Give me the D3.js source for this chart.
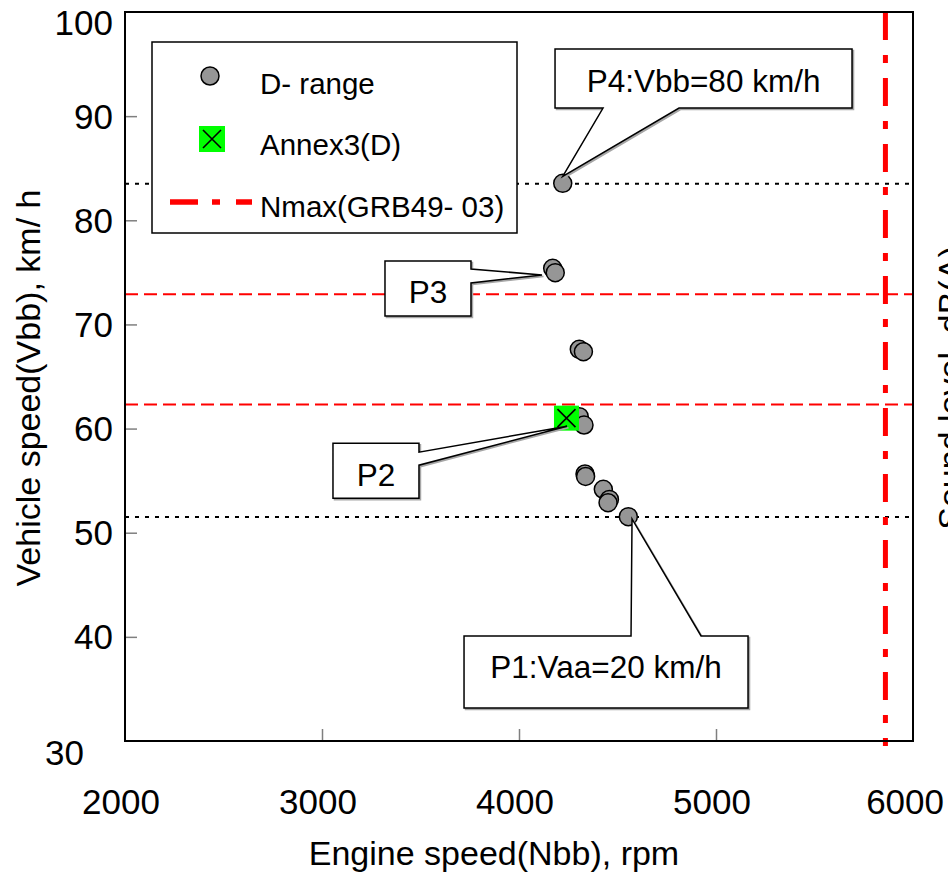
<!DOCTYPE html>
<html><head><meta charset="utf-8">
<script src="https://cdn.jsdelivr.net/npm/d3@7"></script>
<style>
body{margin:0;background:#fff}
svg{display:block}
text{font-family:"Liberation Sans",Arial,Helvetica,sans-serif;fill:#000}
</style>
</head><body>
<script>
// ---- data ----
const dRangeRpm   = [4222, 4171, 4184, 4306, 4327, 4306, 4330, 4335, 4338, 4428, 4459, 4452, 4555];
const dRangeSpeed = [83.55, 75.39, 74.97, 67.61, 67.38, 61.14, 60.34, 55.64, 55.4, 54.17, 53.2, 52.88, 51.54];
const annexRpm    = [4241];
const annexSpeed  = [61.0];
const nmaxRpm     = [5860];
const dottedSpeeds = [83.5, 51.5];
const dashedSpeeds = [72.9, 62.3];
const xTickValues = [2000, 3000, 4000, 5000, 6000];
const yTickValues = [30, 40, 50, 60, 70, 80, 90, 100];
const legendLabels = ["D- range", "Annex3(D)", "Nmax(GRB49- 03)"];
const xTitle = "Engine speed(Nbb), rpm";
const yTitle = "Vehicle speed(Vbb), km/ h";
const y2Title = "Sound level, dB(A)";
const calloutLabels = ["P4:Vbb=80 km/h", "P3", "P2", "P1:Vaa=20 km/h"];

// ---- layout ----
const W = 948, H = 875;
const m = {left:125, top:12, right:913, bottom:741};
const x = d3.scaleLinear().domain([2000, 6000]).range([m.left, m.right]);
const y = d3.scaleLinear().domain([30, 100]).range([m.bottom, m.top]);

const svg = d3.select("body").append("svg").attr("width", W).attr("height", H);

// ticks (inward, gray)
const gx = svg.append("g").attr("transform", `translate(0,${m.bottom})`)
  .call(d3.axisBottom(x).tickValues([3000,4000,5000]).tickSizeInner(-12).tickSizeOuter(0).tickFormat(""));
const gy = svg.append("g").attr("transform", `translate(${m.left},0)`)
  .call(d3.axisLeft(y).tickValues([40,50,60,70,80,90]).tickSizeInner(-12).tickSizeOuter(0).tickFormat(""));
[gx, gy].forEach(g => {
  g.select(".domain").remove();
  g.selectAll(".tick line").attr("stroke", "#7f7f7f").attr("stroke-width", 1.5);
});

// tick labels
svg.append("g").selectAll("text").data(xTickValues).join("text")
  .attr("x", d => d === 6000 ? 944 : x(d) - 4)
  .attr("y", 814)
  .attr("text-anchor", d => d === 6000 ? "end" : "middle")
  .attr("font-size", 35)
  .text(d => d);
svg.append("g").selectAll("text").data(yTickValues).join("text")
  .attr("x", d => d === 30 ? 84 : 113)
  .attr("y", d => (d === 100 ? y(d) + 10 : d === 30 ? y(d) + 11 : y(d)) + 12.5)
  .attr("text-anchor", "end")
  .attr("font-size", 35)
  .text(d => d);

// axis titles
svg.append("text").attr("x", 494).attr("y", 865).attr("text-anchor", "middle")
  .attr("font-size", 34).text(xTitle);
svg.append("text").attr("transform", `translate(40,388) rotate(-90)`).attr("text-anchor", "middle")
  .attr("font-size", 34).text(yTitle);
svg.append("text").attr("transform", `translate(962,388) rotate(-90)`).attr("text-anchor", "middle")
  .attr("font-size", 34).text(y2Title);

// reference lines
svg.append("g").selectAll("line").data(dottedSpeeds).join("line")
  .attr("x1", m.left).attr("x2", m.right).attr("y1", d => y(d)).attr("y2", d => y(d))
  .attr("stroke", "#000").attr("stroke-width", 2).attr("stroke-dasharray", "4,6");
svg.append("g").selectAll("line").data(dashedSpeeds).join("line")
  .attr("x1", m.left).attr("x2", m.right).attr("y1", d => y(d)).attr("y2", d => y(d))
  .attr("stroke", "#ff0000").attr("stroke-width", 2).attr("stroke-dasharray", "13,6");
svg.append("g").selectAll("line").data(nmaxRpm).join("line")
  .attr("x1", d => x(d)).attr("x2", d => x(d)).attr("y1", m.top).attr("y2", m.bottom + 5)
  .attr("stroke", "#ff0000").attr("stroke-width", 5).attr("stroke-dasharray", "28,15,8,15");

// frame
svg.append("rect").attr("x", m.left).attr("y", m.top)
  .attr("width", m.right - m.left).attr("height", m.bottom - m.top)
  .attr("fill", "none").attr("stroke", "#000").attr("stroke-width", 2);

// legend
const lg = svg.append("g");
lg.append("rect").attr("x", 152).attr("y", 42).attr("width", 365).attr("height", 191)
  .attr("fill", "#fff").attr("stroke", "#000").attr("stroke-width", 1.5);
lg.append("circle").attr("cx", 210).attr("cy", 76).attr("r", 9)
  .attr("fill", "#969696").attr("stroke", "#000").attr("stroke-width", 1.5);
lg.append("rect").attr("x", 199).attr("y", 126).attr("width", 26).attr("height", 26).attr("fill", "#00ff00");
lg.append("path").attr("d", "M203,130L221,148M221,130L203,148").attr("stroke", "#000").attr("stroke-width", 1.6);
lg.append("line").attr("x1", 170).attr("x2", 252).attr("y1", 202).attr("y2", 202)
  .attr("stroke", "#ff0000").attr("stroke-width", 5.5).attr("stroke-dasharray", "28,14,8,16");
lg.selectAll("text").data(legendLabels).join("text")
  .attr("x", 260).attr("y", (d, i) => [94, 155, 217][i])
  .attr("font-size", 29.5).text(d => d);

// points
svg.append("g").selectAll("circle").data(dRangeRpm.map((r, i) => [r, dRangeSpeed[i]])).join("circle")
  .attr("cx", d => x(d[0])).attr("cy", d => y(d[1])).attr("r", 9)
  .attr("fill", "#969696").attr("stroke", "#000").attr("stroke-width", 1.5);

const ag = svg.append("g").selectAll("g").data(annexRpm.map((r, i) => [r, annexSpeed[i]])).join("g")
  .attr("transform", d => `translate(${x(d[0])},${y(d[1])})`);
ag.append("rect").attr("x", -12.5).attr("y", -12.5).attr("width", 25).attr("height", 25).attr("fill", "#00ff00");
ag.append("path").attr("d", "M-9,-9L9,9M9,-9L-9,9").attr("stroke", "#000").attr("stroke-width", 1.6);

// callouts: anchor from data, box layout as pixel offsets
const anchors = [
  [dRangeRpm[0], dRangeSpeed[0]],
  [dRangeRpm[1], dRangeSpeed[1]],
  [annexRpm[0], annexSpeed[0]],
  [dRangeRpm[12], dRangeSpeed[12]]
];
const calloutLayout = [
  {dx:-7.7, dy:-134.3, w:297, h:59, side:"bottom", a:48, b:124, tx:0, ty:-7},
  {dx:-167.7, dy:-7.3, w:86, h:55, side:"right", a:8, b:22, tx:-10.7, ty:6.7},
  {dx:-233.5, dy:25, w:86, h:55, side:"right", a:9, b:22, tx:0.5, ty:8},
  {dx:-164.3, dy:119.3, w:284, h:72, side:"top", a:167, b:237, tx:3.7, ty:2.3}
];
function calloutPath(px, py, L) {
  const x0 = px + L.dx, y0 = py + L.dy, x1 = x0 + L.w, y1 = y0 + L.h;
  const tx = px + L.tx, ty = py + L.ty;
  const p = d3.path();
  if (L.side === "bottom") {
    p.moveTo(x0, y0); p.lineTo(x1, y0); p.lineTo(x1, y1); p.lineTo(x0 + L.b, y1);
    p.lineTo(tx, ty); p.lineTo(x0 + L.a, y1); p.lineTo(x0, y1); p.closePath();
  } else if (L.side === "right") {
    p.moveTo(x0, y0); p.lineTo(x1, y0); p.lineTo(x1, y0 + L.a); p.lineTo(tx, ty);
    p.lineTo(x1, y0 + L.b); p.lineTo(x1, y1); p.lineTo(x0, y1); p.closePath();
  } else {
    p.moveTo(x0, y0); p.lineTo(x0 + L.a, y0); p.lineTo(tx, ty); p.lineTo(x0 + L.b, y0);
    p.lineTo(x1, y0); p.lineTo(x1, y1); p.lineTo(x0, y1); p.closePath();
  }
  return p.toString();
}
const cg = svg.append("g").selectAll("g").data(calloutLabels).join("g");
cg.append("path")
  .attr("d", (d, i) => calloutPath(x(anchors[i][0]), y(anchors[i][1]), calloutLayout[i]))
  .attr("transform", "translate(1.5,1.5)").attr("fill", "#a6a6a6").attr("stroke", "#a6a6a6").attr("stroke-width", 1.5);
cg.append("path")
  .attr("d", (d, i) => calloutPath(x(anchors[i][0]), y(anchors[i][1]), calloutLayout[i]))
  .attr("fill", "#fff").attr("stroke", "#000").attr("stroke-width", 1.5).attr("stroke-linejoin", "miter");
cg.append("text")
  .attr("x", (d, i) => x(anchors[i][0]) + calloutLayout[i].dx + calloutLayout[i].w / 2)
  .attr("y", (d, i) => y(anchors[i][1]) + calloutLayout[i].dy + 42.5)
  .attr("text-anchor", "middle").attr("font-size", 31.5).text(d => d);
</script>
</body></html>
